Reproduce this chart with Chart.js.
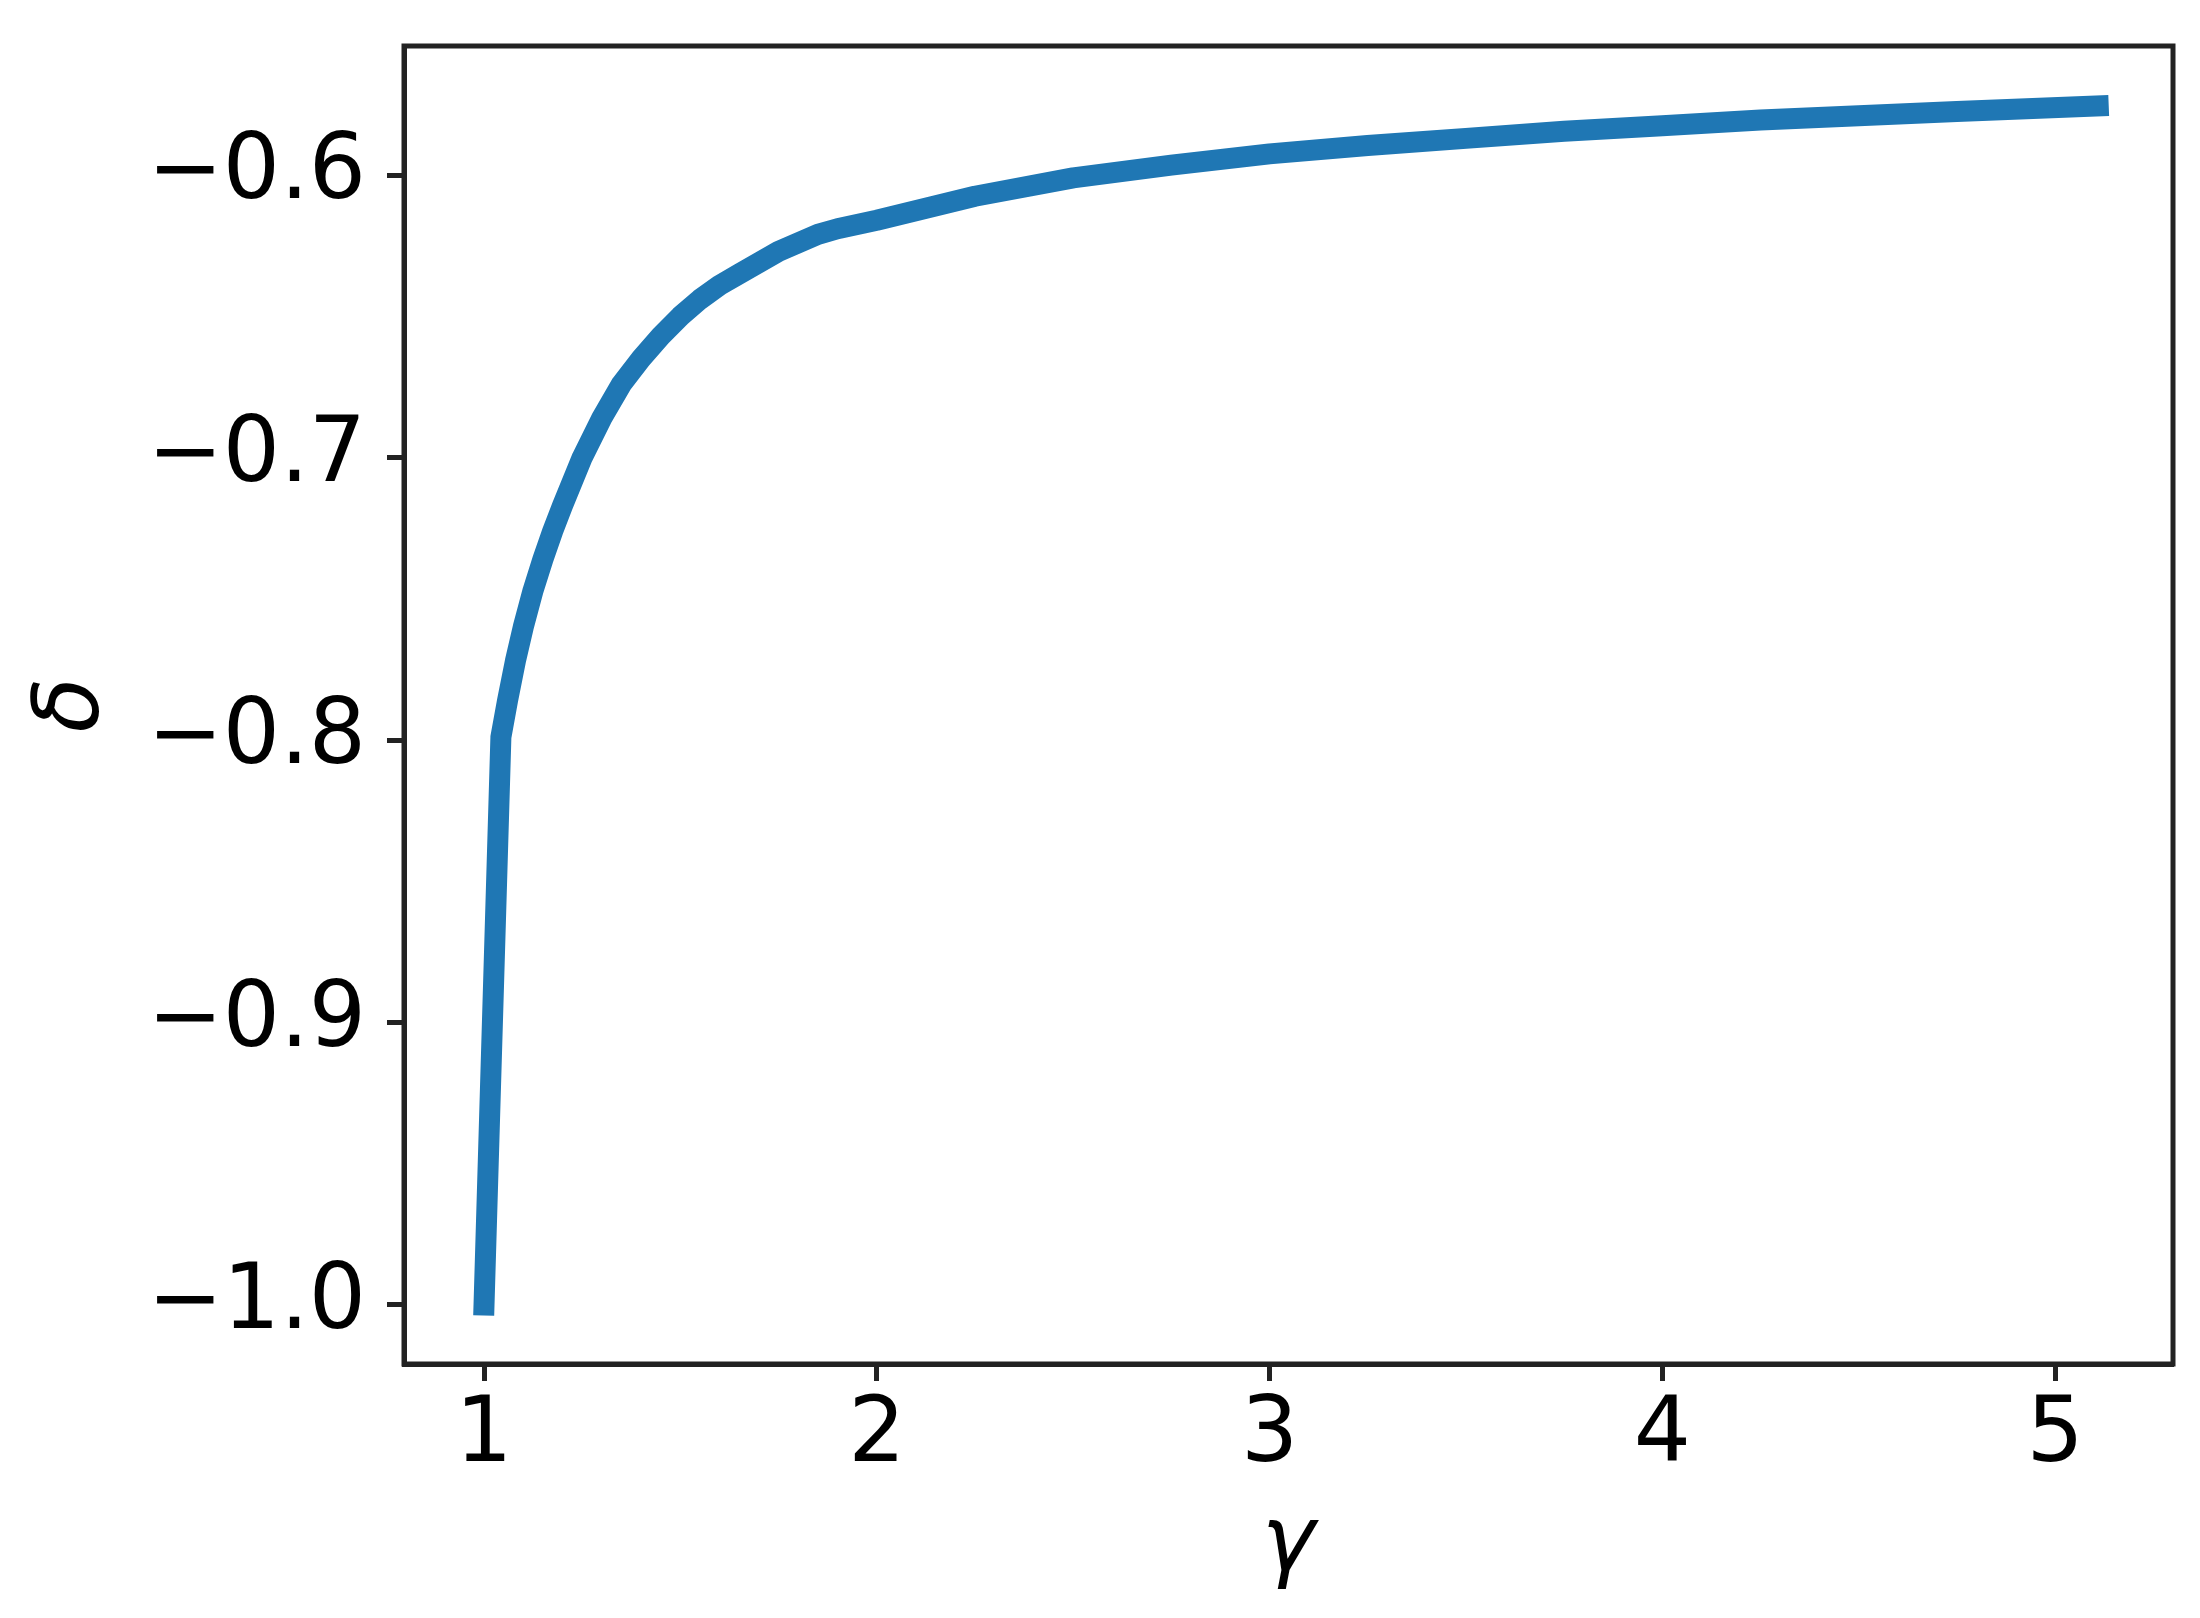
<!DOCTYPE html>
<html>
<head>
<meta charset="utf-8">
<script src="https://cdn.jsdelivr.net/npm/chart.js@4.4.1/dist/chart.umd.min.js"></script>
<style>
  html, body { margin: 0; padding: 0; background: #ffffff; }
  #wrap { width: 2200px; height: 1618px; position: relative; }
</style>
</head>
<body>
<div id="wrap"><canvas id="c" width="2200" height="1618"></canvas></div>
<script>
// ---- data ----
const gammaValues = [1.0, 1.043, 1.06, 1.08, 1.10, 1.125, 1.15, 1.175, 1.20, 1.25, 1.30, 1.35, 1.40, 1.45, 1.50, 1.55, 1.60, 1.65, 1.70, 1.75, 1.80, 1.85, 1.90,
                     2.0, 2.25, 2.5, 2.75, 3.0, 3.25, 3.5, 3.75, 4.0, 4.25, 4.5, 4.75, 5.11];
const deltaValues = [-1.0, -0.799, -0.786, -0.772, -0.760, -0.747, -0.736, -0.726, -0.717, -0.700, -0.686, -0.674, -0.665, -0.657, -0.650, -0.644, -0.639, -0.635, -0.631, -0.627, -0.624, -0.621, -0.619,
                     -0.616, -0.6075, -0.601, -0.5965, -0.5925, -0.5895, -0.587, -0.5845, -0.5825, -0.5805, -0.579, -0.5775, -0.5755];
const xTicks = [1, 2, 3, 4, 5];
const yTicks = [-1.0, -0.9, -0.8, -0.7, -0.6];
const xLabel = 'γ';
const yLabel = 'δ';

const FONT = 'DejaVu Sans';
const TICK_FONT_SIZE = 90;
const SPINE = '#222222';

const points = gammaValues.map((g, i) => ({ x: g, y: deltaValues[i] }));

const boxPlugin = {
  id: 'box',
  afterDatasetsDraw(chart) {
    const { ctx, chartArea: a } = chart;
    ctx.save();
    ctx.strokeStyle = SPINE;
    ctx.lineWidth = 5;
    ctx.strokeRect(a.left, a.top, a.right - a.left, a.bottom - a.top);
    ctx.restore();
  }
};

const fmtY = v => (v < 0 ? '\u2212' : '') + Math.abs(v).toFixed(1);

new Chart(document.getElementById('c'), {
  type: 'line',
  data: {
    datasets: [{
      data: points,
      borderColor: '#1f77b4',
      borderWidth: 21,
      borderCapStyle: 'square',
      borderJoinStyle: 'round',
      pointRadius: 0,
      tension: 0,
      fill: false
    }]
  },
  options: {
    responsive: false,
    animation: false,
    devicePixelRatio: 1,
    layout: { padding: { top: 46, right: 27, bottom: 0, left: 0 } },
    plugins: { legend: { display: false }, tooltip: { enabled: false } },
    scales: {
      x: {
        type: 'linear',
        min: 0.7963,
        max: 5.3004,
        afterBuildTicks: s => { s.ticks = xTicks.map(v => ({ value: v })); },
        afterFit: s => { s.height = 254; s.paddingLeft = 0; s.paddingRight = 0; },
        ticks: {
          font: { family: FONT, size: TICK_FONT_SIZE },
          color: '#000000',
          padding: 3,
          maxRotation: 0,
          autoSkip: false,
          callback: v => String(v)
        },
        grid: { drawOnChartArea: false, drawTicks: true, tickLength: 17, tickWidth: 5, tickColor: SPINE },
        border: { display: true, color: SPINE, width: 5 },
        title: {
          display: true,
          text: xLabel,
          color: '#000000',
          font: { family: FONT, size: TICK_FONT_SIZE, style: 'italic' },
          padding: { top: 0, bottom: 17 }
        }
      },
      y: {
        type: 'linear',
        min: -1.0209,
        max: -0.5543,
        afterBuildTicks: s => { s.ticks = yTicks.map(v => ({ value: v })); },
        afterFit: s => { s.width = 404; s.paddingTop = 0; s.paddingBottom = 0; },
        ticks: {
          font: { family: FONT, size: TICK_FONT_SIZE },
          color: '#000000',
          padding: 21,
          autoSkip: false,
          callback: v => fmtY(v)
        },
        grid: { drawOnChartArea: false, drawTicks: true, tickLength: 17, tickWidth: 5, tickColor: SPINE },
        border: { display: true, color: SPINE, width: 5 },
        title: {
          display: true,
          text: yLabel,
          color: '#000000',
          font: { family: FONT, size: TICK_FONT_SIZE, style: 'italic' },
          padding: { top: 21, bottom: 0 }
        }
      }
    }
  },
  plugins: [boxPlugin]
});
</script>
</body>
</html>
